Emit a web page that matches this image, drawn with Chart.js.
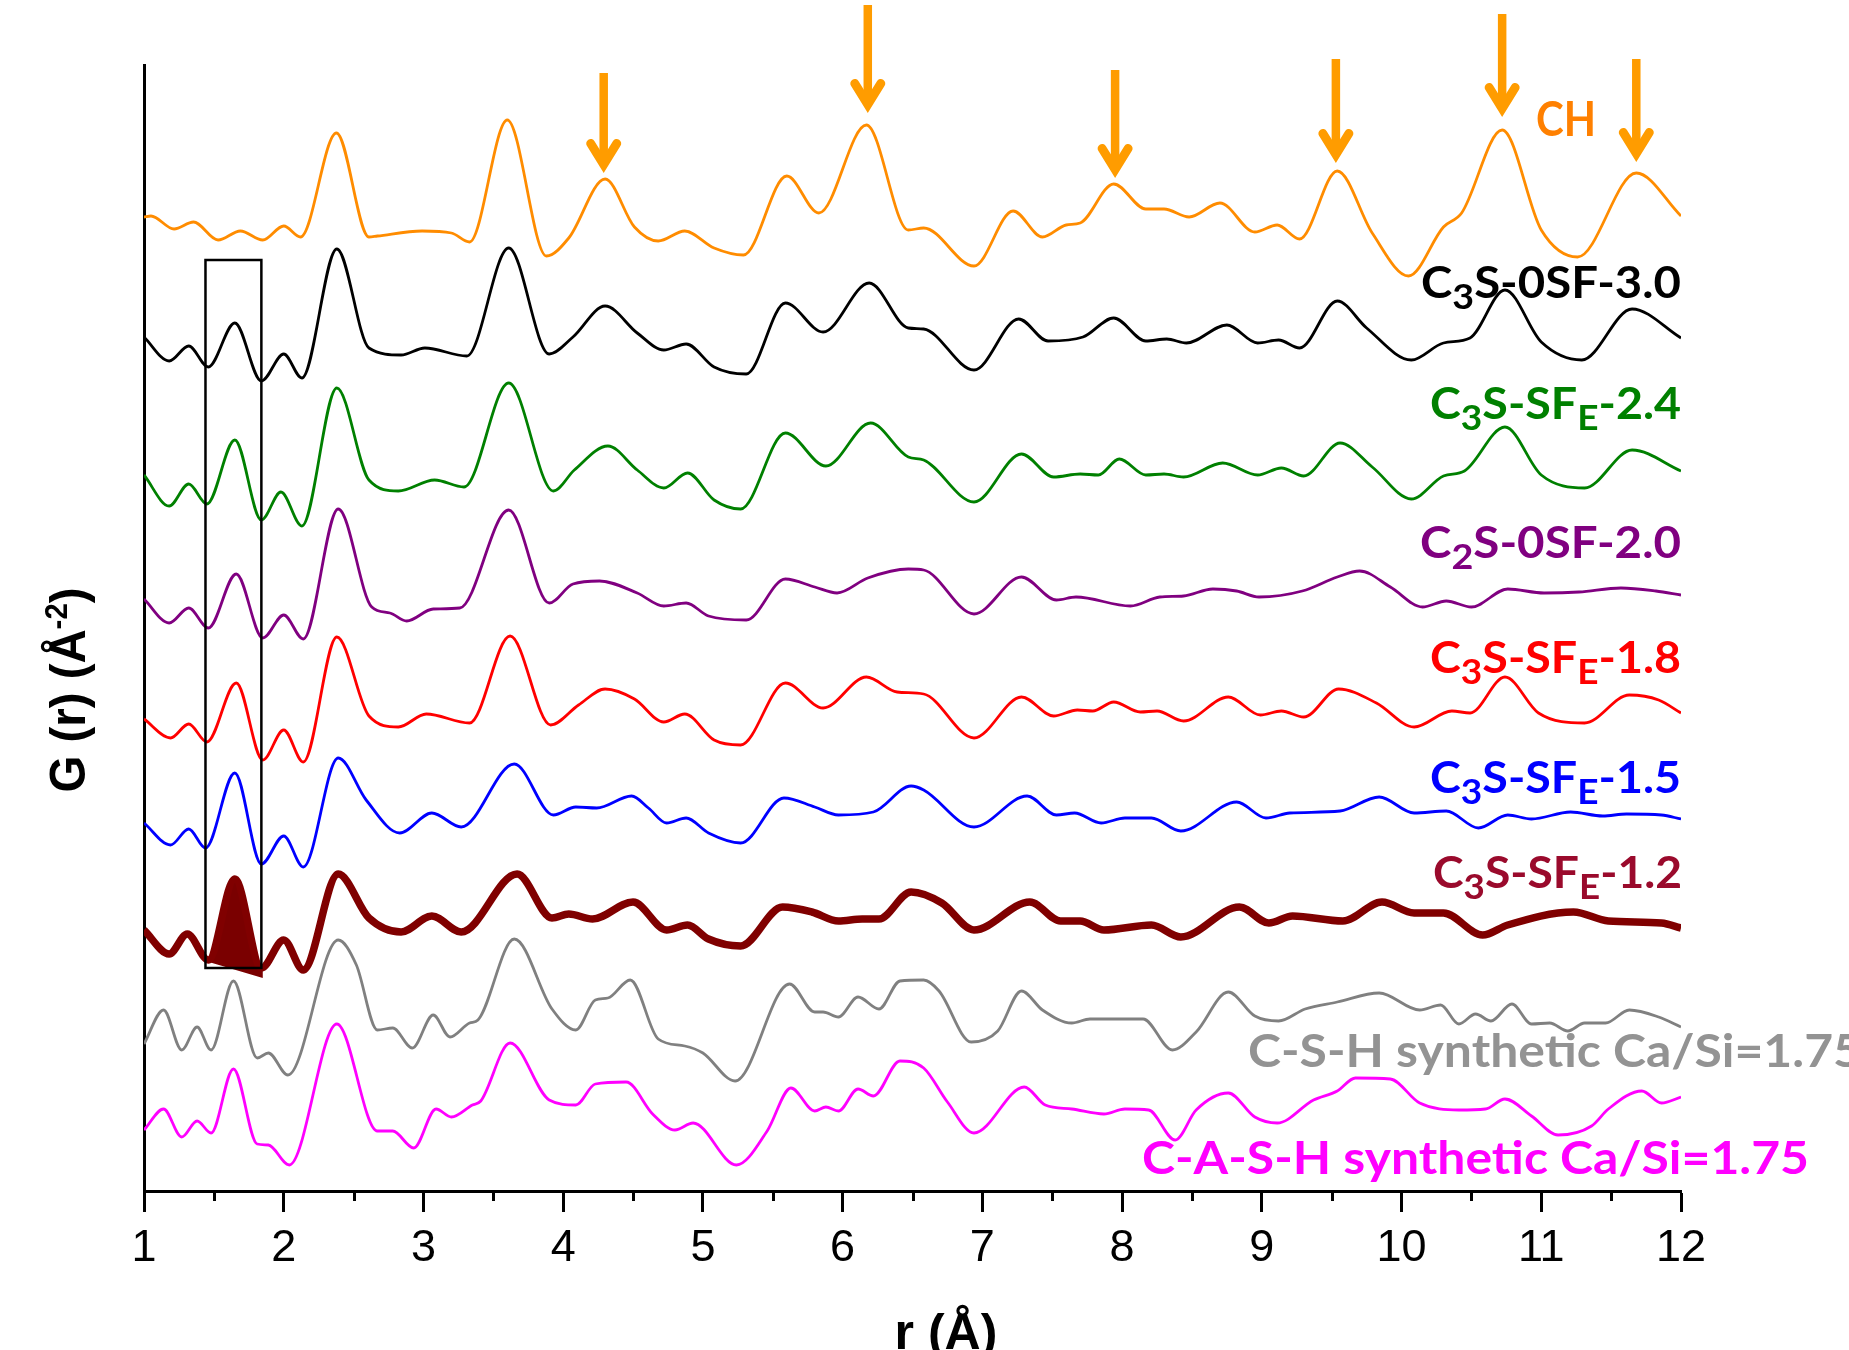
<!DOCTYPE html>
<html>
<head>
<meta charset="utf-8">
<script src="https://cdn.jsdelivr.net/npm/chart.js@4.4.1/dist/chart.umd.min.js"></script>
<style>
  html, body { margin: 0; padding: 0; background: #ffffff; }
  canvas { display: block; }
</style>
</head>
<body>
<canvas id="c" width="1849" height="1350" style="width:1849px;height:1350px"></canvas>
<script>
// ---------------- DATA (r in Å, G(r) in arbitrary units) ----------------
const rCH = [1.0,1.05,1.215,1.355,1.53,1.69,1.85,2.0,2.12,2.377,2.61,2.67,2.99,3.2,3.33,3.6,3.88,4.04,4.3,4.51,4.68,4.87,5.08,5.29,5.6,5.83,6.17,6.47,6.58,6.94,7.22,7.43,7.6,7.7,7.94,8.17,8.3,8.48,8.7,8.95,9.11,9.27,9.54,9.79,10.05,10.3,10.43,10.72,11.0,11.26,11.68,12.0];
const gCH = [0.3,0.4,-0.9,-0.2,-2.0,-1.1,-2.0,-0.6,-1.7,8.7,-1.7,-1.6,-1.1,-1.3,-2.2,10.0,-3.6,-1.8,4.1,-0.7,-2.1,-1.1,-2.8,-3.5,4.4,0.7,9.5,-1.0,-0.8,-4.6,0.9,-1.7,-0.5,-0.3,3.6,1.1,1.1,0.3,1.7,-1.2,-0.5,-1.9,4.9,-1.3,-5.6,-0.7,0.7,9.0,-1.0,-3.7,4.7,0.4];

const rS30 = [1.0,1.18,1.32,1.46,1.65,1.84,2.0,2.13,2.38,2.61,2.84,3.01,3.31,3.61,3.9,4.07,4.3,4.53,4.72,4.88,5.08,5.31,5.59,5.86,6.19,6.47,6.58,6.94,7.26,7.47,7.72,7.94,8.17,8.32,8.46,8.75,8.97,9.12,9.27,9.54,9.75,10.07,10.3,10.49,10.74,11.0,11.29,11.65,12.0];
const gS30 = [0.3,-2.1,-0.6,-2.7,1.7,-4.1,-1.4,-3.8,9.1,-0.8,-1.5,-0.8,-1.6,9.2,-1.4,0.3,3.4,0.7,-1.0,-0.4,-2.7,-3.4,3.7,0.8,5.7,1.2,1.1,-3.0,2.1,-0.1,0.3,2.2,-0.1,0.1,-0.3,1.5,-0.3,0.0,-0.8,3.9,1.2,-2.0,-0.3,0.2,5.0,-0.2,-2.0,3.1,0.2];

const rS24 = [1.0,1.18,1.32,1.45,1.65,1.84,1.98,2.13,2.38,2.61,2.82,3.08,3.29,3.61,3.93,4.08,4.32,4.53,4.72,4.89,5.08,5.27,5.59,5.88,6.2,6.47,6.58,6.94,7.28,7.51,7.7,7.83,7.98,8.17,8.3,8.44,8.72,8.97,9.14,9.3,9.56,9.79,10.07,10.3,10.45,10.74,11.0,11.31,11.65,12.0];
const gS24 = [0.0,-3.1,-0.9,-2.9,3.5,-4.5,-1.7,-5.1,8.7,-0.5,-1.6,-0.5,-1.2,9.2,-1.6,0.5,2.9,0.5,-1.3,0.2,-2.5,-3.4,4.2,0.9,5.2,1.8,1.5,-2.7,2.1,-0.2,0.1,0.0,1.6,0.0,0.1,-0.2,1.2,0.0,0.7,-0.1,3.2,0.8,-2.4,-0.1,0.4,4.8,0.0,-1.3,2.5,0.4];

const rS20 = [1.0,1.18,1.32,1.46,1.66,1.85,2.0,2.14,2.39,2.63,2.76,2.88,3.07,3.26,3.61,3.9,4.07,4.26,4.53,4.72,4.88,5.04,5.31,5.59,5.8,5.96,6.18,6.47,6.58,6.94,7.28,7.53,7.67,8.06,8.27,8.44,8.65,8.82,8.98,9.29,9.54,9.7,9.92,10.15,10.32,10.5,10.76,11.02,11.27,11.57,11.82,12.0];
const gS20 = [0.1,-2.3,-0.8,-2.8,2.6,-3.8,-1.5,-3.9,9.1,-0.7,-1.3,-2.1,-0.9,-0.8,9.0,-0.3,1.6,1.9,0.7,-0.6,-0.3,-1.6,-2.0,2.1,1.3,0.7,2.2,3.1,3.0,-1.4,2.3,0.0,0.3,-0.6,0.3,0.4,1.1,0.9,0.3,0.9,2.3,2.9,1.3,-0.7,-0.1,-0.7,1.1,0.7,0.8,1.2,0.9,0.5];

const rS18 = [1.0,1.19,1.32,1.45,1.66,1.85,2.0,2.14,2.38,2.61,2.82,3.02,3.33,3.62,3.91,4.11,4.3,4.51,4.72,4.87,5.08,5.27,5.59,5.86,6.17,6.39,6.58,6.94,7.28,7.51,7.68,7.79,7.94,8.13,8.25,8.44,8.76,8.99,9.14,9.3,9.55,9.82,10.09,10.36,10.49,10.74,10.98,11.31,11.63,11.84,12.0];
const gS18 = [0.1,-1.8,-0.4,-2.2,3.7,-4.0,-1.0,-4.2,8.3,0.4,-0.7,0.6,-0.3,8.4,-0.5,1.5,3.1,2.1,-0.2,0.6,-2.0,-2.5,3.7,1.2,4.3,2.8,2.6,-1.8,2.3,0.4,1.0,0.9,1.8,0.8,0.9,-0.1,2.3,0.5,0.9,0.3,3.1,1.7,-0.7,0.9,0.7,4.3,0.7,-0.3,2.5,2.0,0.7];

const rS15 = [1.0,1.19,1.32,1.44,1.65,1.84,2.0,2.14,2.39,2.59,2.83,3.06,3.27,3.65,3.93,4.09,4.24,4.49,4.61,4.74,4.88,5.04,5.27,5.58,5.8,5.97,6.22,6.49,6.58,6.94,7.32,7.53,7.66,7.85,8.02,8.21,8.42,8.82,9.03,9.2,9.56,9.84,10.09,10.32,10.55,10.76,10.93,11.21,11.44,11.61,11.86,12.0];
const gS15 = [-0.3,-2.5,-0.9,-2.8,4.7,-4.4,-1.6,-4.7,6.2,2.0,-1.3,0.7,-0.7,5.6,0.5,1.3,1.2,2.4,1.2,-0.3,0.2,-1.3,-2.3,2.2,1.3,0.5,0.8,3.4,3.0,-0.7,2.4,0.5,0.7,-0.3,0.2,0.2,-1.1,1.8,0.2,0.7,0.9,2.3,0.7,0.9,-0.8,0.5,0.1,0.8,0.4,0.6,0.5,0.1];

const rS12 = [1.0,1.18,1.31,1.46,1.65,1.84,2.0,2.14,2.39,2.61,2.84,3.06,3.27,3.67,3.92,4.04,4.21,4.5,4.74,4.89,5.04,5.27,5.57,5.78,5.97,6.14,6.26,6.49,6.71,6.94,7.34,7.56,7.7,7.87,8.21,8.42,8.84,9.05,9.22,9.58,9.86,10.09,10.3,10.58,10.76,11.23,11.48,11.86,12.0];
const gS12 = [0.0,-2.4,-0.4,-3.0,5.1,-3.8,-1.0,-4.0,5.6,1.2,-0.2,1.4,-0.2,5.6,1.2,1.6,1.1,2.8,0.0,0.5,-0.9,-1.6,2.3,1.8,0.9,1.1,1.1,3.8,2.7,0.0,2.8,0.9,0.9,0.0,0.5,-0.7,2.3,0.7,1.4,0.9,2.8,1.7,1.7,-0.5,0.5,1.8,0.9,0.7,0.2];

const rCSH = [1.0,1.14,1.27,1.38,1.48,1.64,1.81,1.89,2.03,2.39,2.52,2.67,2.78,2.92,3.07,3.19,3.33,3.39,3.65,3.92,4.09,4.23,4.32,4.48,4.68,4.87,5.0,5.23,5.62,5.8,5.86,5.97,6.11,6.26,6.41,6.58,6.69,6.92,7.11,7.28,7.43,7.64,7.77,8.15,8.36,8.53,8.76,8.95,9.12,9.31,9.54,9.84,10.13,10.28,10.41,10.53,10.64,10.79,10.93,11.06,11.19,11.31,11.46,11.63,11.84,12.0];
const gCSH = [-0.4,3.0,-1.0,1.3,-1.0,5.9,-1.8,-1.3,-3.5,10.0,7.5,1.0,1.2,-0.8,2.5,0.3,1.7,2.0,10.1,3.1,1.0,4.0,4.2,6.0,0.1,-0.6,-1.3,-4.1,5.6,2.8,2.8,2.3,4.3,3.1,5.9,6.0,4.9,-0.2,0.9,4.9,3.0,1.7,2.1,2.1,-1.0,0.8,4.8,2.4,1.9,3.1,3.8,4.7,3.0,3.5,1.6,2.6,1.9,3.6,1.6,1.7,0.9,1.7,1.7,3.0,2.3,1.3];

const rCASH = [1.0,1.14,1.27,1.38,1.48,1.64,1.81,1.89,2.04,2.38,2.67,2.78,2.93,3.09,3.2,3.35,3.41,3.62,3.9,4.09,4.23,4.45,4.64,4.8,4.93,5.24,5.46,5.63,5.8,5.88,5.97,6.11,6.22,6.41,6.58,6.75,6.94,7.3,7.45,7.64,7.87,8.02,8.19,8.38,8.53,8.76,8.95,9.11,9.37,9.54,9.67,9.92,10.13,10.41,10.6,10.74,10.93,11.12,11.36,11.48,11.72,11.86,12.0];
const gCASH = [0.0,2.1,-0.7,0.9,-0.3,6.1,-1.4,-1.5,-3.5,10.6,-0.1,-0.1,-1.8,2.1,1.3,2.5,2.9,8.7,3.0,2.5,4.6,4.8,1.6,0.0,0.7,-3.5,-0.1,4.2,1.9,2.3,1.9,4.1,3.4,6.9,6.2,2.8,-0.3,4.3,2.5,2.1,1.6,2.1,2.0,-1.0,2.0,3.7,1.3,0.7,3.0,3.9,5.2,5.1,2.7,2.0,2.1,3.1,1.4,-0.5,0.4,2.1,3.9,2.7,3.3];

// series names ( _{..} = subscript ) and vertical stacking offsets
const seriesNames = ['CH', 'C_{3}S-0SF-3.0', 'C_{3}S-SF_{E}-2.4', 'C_{2}S-0SF-2.0', 'C_{3}S-SF_{E}-1.8', 'C_{3}S-SF_{E}-1.5', 'C_{3}S-SF_{E}-1.2', 'C-S-H synthetic Ca/Si=1.75', 'C-A-S-H synthetic Ca/Si=1.75'];
const seriesR = [rCH, rS30, rS24, rS20, rS18, rS15, rS12, rCSH, rCASH];
const seriesG = [gCH, gS30, gS24, gS20, gS18, gS15, gS12, gCSH, gCASH];
const offsets = [97.1, 85.1, 71.6, 59.1, 47.1, 37.1, 26.1, 15.1, 6.1];

// highlighted Si-O peak of C3S-SFE-1.2 (filled down to a sloping base)
const peakFillBaseR = [1.44, 1.85];
const peakFillBaseG = [-3.1, -4.8];

// x-axis ticks
const xMajorTicks = [1,2,3,4,5,6,7,8,9,10,11,12];
const xMinorTicks = [1.5,2.5,3.5,4.5,5.5,6.5,7.5,8.5,9.5,10.5,11.5];

// annotations: CH peak arrows and the highlight box (in data units)
const arrowR   = [4.29, 6.18, 7.95, 9.53, 10.72, 11.68];
const arrowTop = [111.8, 118.6, 112.1, 113.2, 117.7, 113.2];
const arrowTip = [101.8, 107.8, 101.3, 102.8, 107.4, 102.9];
const boxR = [1.44, 1.84];
const boxV = [22.3, 93.1];

// ---------------- STYLES / LAYOUT ----------------
const lineColors = ['#FF8C00', '#000000', '#008000', '#800080', '#FF0000', '#0000FF', '#800000', '#808080', '#FF00FF'];
const lineWidths = [2.8, 2.8, 2.8, 2.8, 2.8, 2.8, 7.5, 2.8, 2.8];
const labelStyle = [
  { x: 1536, y: 136,  align: 'left',  size: 48, width: 60,  color: '#FF8000' },
  { x: 1681, y: 298,  align: 'right', size: 44, width: 260, color: '#000000' },
  { x: 1681, y: 419,  align: 'right', size: 44, width: 251, color: '#008000' },
  { x: 1681, y: 558,  align: 'right', size: 44, width: 261, color: '#800080' },
  { x: 1681, y: 673,  align: 'right', size: 44, width: 251, color: '#FF0000' },
  { x: 1681, y: 793,  align: 'right', size: 44, width: 251, color: '#0000FF' },
  { x: 1682, y: 888,  align: 'right', size: 44, width: 249, color: '#9A0A2C' },
  { x: 1248, y: 1067, align: 'left',  size: 46, width: 614, color: '#939393' },
  { x: 1142, y: 1174, align: 'left',  size: 46, width: 667, color: '#FF00FF' }
];
const LABEL_FONT = 'Lato, "Open Sans", sans-serif';
const AXIS_FONT = '"Liberation Sans", Arial, sans-serif';

function parseRich(s) {
  const segs = [];
  const re = /_\{([^}]*)\}|\^\{([^}]*)\}|([^_^]+)/g;
  let m;
  while ((m = re.exec(s))) {
    if (m[1] !== undefined) segs.push({ t: m[1], k: 'sub' });
    else if (m[2] !== undefined) segs.push({ t: m[2], k: 'sup' });
    else segs.push({ t: m[3], k: 'n' });
  }
  return segs;
}

function drawRich(ctx, s, o) {
  const segs = parseRich(s);
  const fN = `${o.weight} ${o.size}px ${o.family}`;
  const fS = `${o.weight} ${Math.round(o.size * o.smallScale)}px ${o.family}`;
  let w = 0;
  for (const g of segs) { ctx.font = g.k === 'n' ? fN : fS; w += ctx.measureText(g.t).width; }
  const sx = o.width ? o.width / w : 1;
  ctx.save();
  ctx.translate(o.x, o.y);
  if (o.rot) ctx.rotate(o.rot);
  ctx.scale(sx, 1);
  let x = o.align === 'right' ? -w : (o.align === 'center' ? -w / 2 : 0);
  ctx.fillStyle = o.color;
  ctx.textBaseline = 'alphabetic';
  ctx.textAlign = 'left';
  for (const g of segs) {
    ctx.font = g.k === 'n' ? fN : fS;
    const dy = g.k === 'sub' ? o.size * o.subShift : (g.k === 'sup' ? -o.size * o.supShift : 0);
    ctx.fillText(g.t, x, dy);
    x += ctx.measureText(g.t).width;
  }
  ctx.restore();
}

const annotations = {
  id: 'annotations',
  afterDatasetsDraw(chart) {
    const { ctx, scales: { x: xs, y: ys } } = chart;
    ctx.save();
    ctx.strokeStyle = '#000';
    ctx.lineWidth = 2.5;
    const bx0 = xs.getPixelForValue(boxR[0]), bx1 = xs.getPixelForValue(boxR[1]);
    const by0 = ys.getPixelForValue(boxV[1]), by1 = ys.getPixelForValue(boxV[0]);
    ctx.strokeRect(bx0, by0, bx1 - bx0, by1 - by0);
    ctx.restore();
  },
  afterDraw(chart) {
    const { ctx, scales: { x: xs, y: ys } } = chart;
    ctx.save();
    ctx.strokeStyle = '#000';
    ctx.lineWidth = 3;
    const axisY = xs.top;
    for (const v of xMinorTicks) {
      const px = Math.round(xs.getPixelForValue(v)) + 0.5;
      ctx.beginPath(); ctx.moveTo(px, axisY); ctx.lineTo(px, axisY + 10); ctx.stroke();
    }
    ctx.strokeStyle = '#FF9C00';
    arrowR.forEach((r, i) => {
      const px = xs.getPixelForValue(r);
      const top = ys.getPixelForValue(arrowTop[i]);
      const tip = ys.getPixelForValue(arrowTip[i]);
      const v = tip - 8.5;
      ctx.lineCap = 'butt';
      ctx.lineWidth = 8.5;
      ctx.beginPath(); ctx.moveTo(px, top); ctx.lineTo(px, v - 4); ctx.stroke();
      ctx.lineWidth = 9;
      ctx.lineCap = 'round';
      ctx.lineJoin = 'miter';
      ctx.miterLimit = 10;
      ctx.beginPath();
      ctx.moveTo(px - 13, v - 21);
      ctx.lineTo(px, v);
      ctx.lineTo(px + 13, v - 21);
      ctx.stroke();
    });
    ctx.restore();
    seriesNames.forEach((name, i) => {
      const st = labelStyle[i];
      drawRich(ctx, name, { x: st.x, y: st.y, align: st.align, size: st.size, width: st.width, color: st.color,
        family: LABEL_FONT, weight: 'bold', smallScale: 0.8, subShift: 0.24, supShift: 0.4 });
    });
    drawRich(ctx, 'G (r) (Å^{-2})', { x: 85, y: 690, rot: -Math.PI / 2, align: 'center', size: 50, width: 205,
      color: '#000', family: AXIS_FONT, weight: 'bold', smallScale: 0.62, subShift: 0.2, supShift: 0.36 });
    drawRich(ctx, 'r (Å)', { x: 946, y: 1349, align: 'center', size: 50, color: '#000',
      family: AXIS_FONT, weight: 'bold', smallScale: 0.62, subShift: 0.2, supShift: 0.36 });
  }
};

// ---------------- DATASETS ----------------
const datasets = seriesNames.map((name, i) => ({
  label: name.replace(/_\{([^}]*)\}/g, '$1'),
  data: seriesR[i].map((r, j) => ({ x: r, y: seriesG[i][j] + offsets[i] })),
  borderColor: lineColors[i],
  borderWidth: lineWidths[i],
  fill: false,
  pointRadius: 0,
  cubicInterpolationMode: 'monotone'
}));
const peakIdx = [];
rS12.forEach((r, j) => { if (r >= 1.3 && r <= 2.0) peakIdx.push(j); });
datasets.push({
  label: 'peak fill',
  data: peakIdx.map(j => ({ x: rS12[j], y: gS12[j] + offsets[6] })),
  borderColor: 'rgba(0,0,0,0)',
  borderWidth: 1,
  backgroundColor: '#7A0000',
  fill: '+1',
  pointRadius: 0,
  cubicInterpolationMode: 'monotone'
});
datasets.push({
  label: 'peak base',
  data: peakFillBaseR.map((r, j) => ({ x: r, y: peakFillBaseG[j] + offsets[6] })),
  borderColor: 'rgba(0,0,0,0)',
  borderWidth: 1,
  fill: false,
  pointRadius: 0
});

new Chart(document.getElementById('c').getContext('2d'), {
  type: 'line',
  data: { datasets },
  options: {
    responsive: false,
    animation: false,
    devicePixelRatio: 1,
    layout: { padding: { top: 65, right: 168, bottom: 0, left: 0 } },
    plugins: { legend: { display: false }, tooltip: { enabled: false } },
    scales: {
      x: {
        type: 'linear', min: 1, max: 12,
        afterBuildTicks: s => { s.ticks = xMajorTicks.map(v => ({ value: v })); },
        ticks: { font: { family: AXIS_FONT, size: 45 }, color: '#000', padding: 10, maxRotation: 0, autoSkip: false,
                 callback: v => String(v) },
        grid: { drawOnChartArea: false, drawTicks: true, tickLength: 21, tickWidth: 3, tickColor: '#000' },
        border: { display: true, color: '#000', width: 3 },
        afterFit: s => { s.height = 159; }
      },
      y: {
        type: 'linear', min: 0, max: 112.6,
        ticks: { display: false },
        grid: { display: false, drawTicks: false },
        border: { display: true, color: '#000', width: 3 },
        afterFit: s => { s.width = 144; }
      }
    }
  },
  plugins: [annotations]
});
</script>
</body>
</html>
